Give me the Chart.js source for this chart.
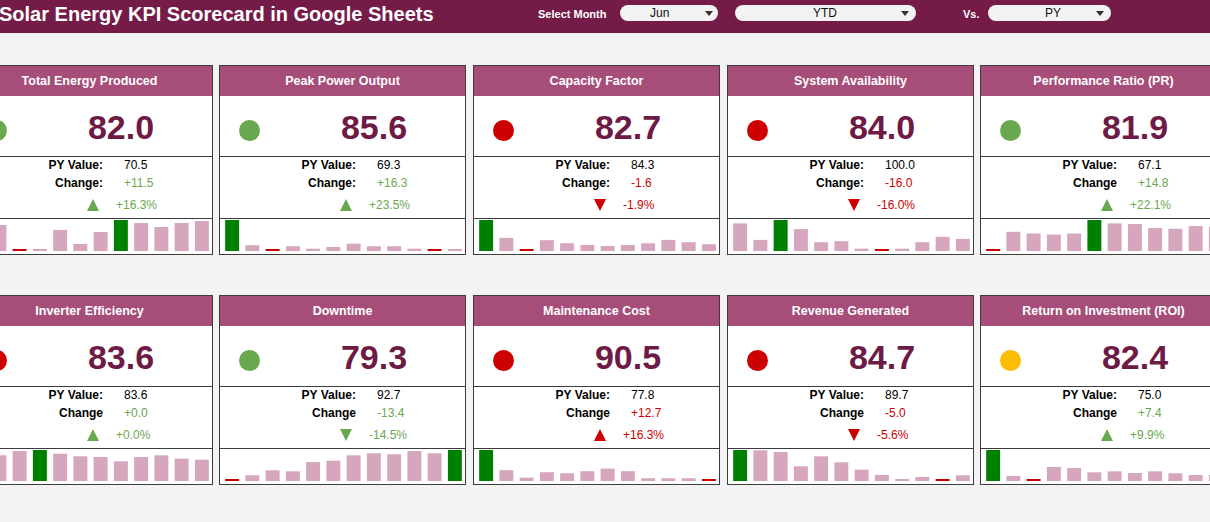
<!DOCTYPE html>
<html>
<head>
<meta charset="utf-8">
<script src="https://cdn.jsdelivr.net/npm/chart.js@4.4.1/dist/chart.umd.min.js"></script>
<style>
  html, body { margin: 0; padding: 0; background: #f3f3f3; overflow: hidden; }
  body { width: 1210px; height: 522px; position: relative; font-family: "Liberation Sans", Arial, sans-serif; }
  .abs { position: absolute; }
  #topbar { left: 0; top: 0; width: 1210px; height: 33px; background: #741b47; }
  #title { left: -1px; top: 3px; color: #fff; font-size: 20px; font-weight: bold; white-space: nowrap; }
  .small { color: #fff; font-size: 11px; font-weight: bold; top: 8px; }
  .pill { top: 5px; height: 16px; background: #f3f3f3; border-radius: 8px; font-size: 12px; line-height: 16px; color: #111; }
  .pill span { position: absolute; top: 0; }
  .pill i { position: absolute; top: 6px; width: 0; height: 0; border-left: 4px solid transparent; border-right: 4px solid transparent; border-top: 5px solid #333; }
  .card { background: #fff; border: 1px solid #3c3c3c; box-sizing: border-box; }
  .head { background: #a64d79; color: #fff; font-weight: bold; font-size: 12.5px; text-align: center; line-height: 30px; white-space: nowrap; }
  .sep { height: 1px; background: #3c3c3c; }
  .big { font-size: 34px; font-weight: bold; color: #6d1a45; text-align: center; width: 120px; line-height: 36px; }
  .dot { width: 21px; height: 21px; border-radius: 50%; }
  .lbl { font-size: 12px; font-weight: bold; color: #000; text-align: right; width: 120px; line-height: 14px; white-space: nowrap; }
  .val { font-size: 12px; color: #000; line-height: 14px; white-space: nowrap; }
  .tri { width: 0; height: 0; border-left: 6.5px solid transparent; border-right: 6.5px solid transparent; }
  canvas { position: absolute; }
</style>
</head>
<body>
<div id="topbar" class="abs"></div>
<div id="title" class="abs">Solar Energy KPI Scorecard in Google Sheets</div>
<div class="abs small" style="left:538px;">Select Month</div>
<div class="abs pill" style="left:620px;width:98px;"><span style="left:30px;">Jun</span><i style="left:85px;"></i></div>
<div class="abs pill" style="left:735px;width:181px;"><span style="left:78px;">YTD</span><i style="left:166px;"></i></div>
<div class="abs small" style="left:963px;">Vs.</div>
<div class="abs pill" style="left:988px;width:123px;"><span style="left:57px;">PY</span><i style="left:108px;"></i></div>
<script>
// KPI names and scorecard values
const kpiNames = ['Total Energy Produced', 'Peak Power Output', 'Capacity Factor', 'System Availability', 'Performance Ratio (PR)',
                  'Inverter Efficiency', 'Downtime', 'Maintenance Cost', 'Revenue Generated', 'Return on Investment (ROI)'];
const kpiValues = [82.0, 85.6, 82.7, 84.0, 81.9, 83.6, 79.3, 90.5, 84.7, 82.4];
const pyValues = [70.5, 69.3, 84.3, 100.0, 67.1, 83.6, 92.7, 77.8, 89.7, 75.0];
const changeValues = [11.5, 16.3, -1.6, -16.0, 14.8, 0.0, -13.4, 12.7, -5.0, 7.4];
const changePct = [16.3, 23.5, -1.9, -16.0, 22.1, 0.0, -14.5, 16.3, -5.6, 9.9];
const changeGood = [true, true, false, false, true, true, true, false, false, true];
const changeLabels = ['Change:', 'Change:', 'Change:', 'Change:', 'Change', 'Change', 'Change', 'Change', 'Change', 'Change'];
const statusColors = ['#6aa84f', '#6aa84f', '#cc0000', '#cc0000', '#6aa84f', '#cc0000', '#6aa84f', '#cc0000', '#cc0000', '#fbbc04'];

// monthly trend (sparkline columns)
const months = ['Jan', 'Feb', 'Mar', 'Apr', 'May', 'Jun', 'Jul', 'Aug', 'Sep', 'Oct', 'Nov', 'Dec'];
const trendEnergy = [20, 26, 0, 1.5, 21, 7, 19, 31, 28, 24, 28, 30];
const trendPeak = [30.7, 5.7, 0, 4.7, 2.3, 4, 7.3, 4.7, 4.7, 2.3, 0, 1.7];
const trendCapacity = [30.7, 13, 0, 10.7, 7.7, 6, 5, 6, 7.7, 11, 8.7, 6.7];
const trendAvailability = [27.3, 11, 30.7, 21.7, 8.7, 9.7, 2.3, 0, 2.3, 8.7, 14, 12];
const trendPR = [0, 19, 17.3, 16.3, 17.3, 30.7, 27.3, 26.7, 22.7, 22, 24.7, 24];
const trendInverter = [0, 25.7, 30, 31, 27.3, 24.7, 24, 19.7, 24, 25.7, 22.3, 21.3];
const trendDowntime = [0, 5.7, 10.7, 9.7, 19, 20.3, 25.7, 27.7, 26.7, 30, 27.7, 31];
const trendMaintenance = [30.7, 10.7, 3.3, 8.7, 7.7, 9.7, 12.3, 9.7, 2.7, 2.7, 2.7, 0];
const trendRevenue = [31, 30.7, 29, 14.7, 24.7, 18.7, 11.3, 6, 1.7, 4, 0, 5.7];
const trendROI = [31, 5, 0, 14, 13, 8.7, 9.7, 8, 9.7, 7.7, 6, 6];
const trends = [trendEnergy, trendPeak, trendCapacity, trendAvailability, trendPR,
                trendInverter, trendDowntime, trendMaintenance, trendRevenue, trendROI];

const cardLeft = [-34, 219, 473, 727, 980];
const cardW = 247;
const rowTop = [65, 295];

function el(cls, style, text) {
  const d = document.createElement('div');
  d.className = 'abs ' + cls;
  Object.assign(d.style, style);
  if (text !== undefined) d.textContent = text;
  document.body.appendChild(d);
  return d;
}
const fmt = v => (v >= 0 ? '+' : '') + v.toFixed(1);

kpiNames.forEach((name, k) => {
  const x = cardLeft[k % 5];
  const y = rowTop[Math.floor(k / 5)];
  el('card', { left: x + 'px', top: y + 'px', width: cardW + 'px', height: '190px' });
  el('head', { left: (x + 1) + 'px', top: (y + 1) + 'px', width: (cardW - 2) + 'px', height: '30px' }, name);
  el('sep', { left: x + 'px', top: (y + 91) + 'px', width: cardW + 'px' });
  el('sep', { left: x + 'px', top: (y + 153) + 'px', width: cardW + 'px' });
  el('dot', { left: (x + 20) + 'px', top: (y + 55) + 'px', background: statusColors[k] });
  el('big', { left: (x + 95) + 'px', top: (y + 44) + 'px' }, kpiValues[k].toFixed(1));

  const good = changeGood[k] ? '#6aa84f' : '#cc0000';
  el('lbl', { left: (x + 17) + 'px', top: (y + 93) + 'px' }, 'PY Value:');
  el('val', { left: (x + 158) + 'px', top: (y + 93) + 'px' }, pyValues[k].toFixed(1));
  el('lbl', { left: (x + 17) + 'px', top: (y + 111) + 'px' }, changeLabels[k]);
  el('val', { left: (x + 158) + 'px', top: (y + 111) + 'px', color: good }, fmt(changeValues[k]));
  const up = changeValues[k] >= 0;
  const tri = el('tri', { left: (x + 121) + 'px', top: (y + 134) + 'px' });
  if (up) tri.style.borderBottom = '12px solid ' + good; else tri.style.borderTop = '12px solid ' + good;
  el('val', { left: (x + 150) + 'px', top: (y + 133) + 'px', color: good }, fmt(changePct[k]) + '%');

  // sparkline column chart
  const data = trends[k];
  const hi = Math.max(...data), lo = Math.min(...data);
  const cv = document.createElement('canvas');
  cv.width = 243; cv.height = 31;
  cv.style.left = (x + 3) + 'px';
  cv.style.top = (y + 155) + 'px';
  cv.style.width = '243px'; cv.style.height = '31px';
  document.body.appendChild(cv);
  new Chart(cv.getContext('2d'), {
    type: 'bar',
    data: {
      labels: months,
      datasets: [{
        data: data,
        backgroundColor: data.map(v => v === hi ? '#008000' : v === lo ? '#cc0000' : '#d5a6bd'),
        barPercentage: 0.69,
        categoryPercentage: 1,
        minBarLength: 2
      }]
    },
    options: {
      responsive: false,
      animation: false,
      layout: { padding: 0 },
      plugins: { legend: { display: false }, tooltip: { enabled: false } },
      scales: {
        x: { display: false },
        y: { display: false, min: lo, max: hi }
      }
    }
  });
});
</script>
</body>
</html>
